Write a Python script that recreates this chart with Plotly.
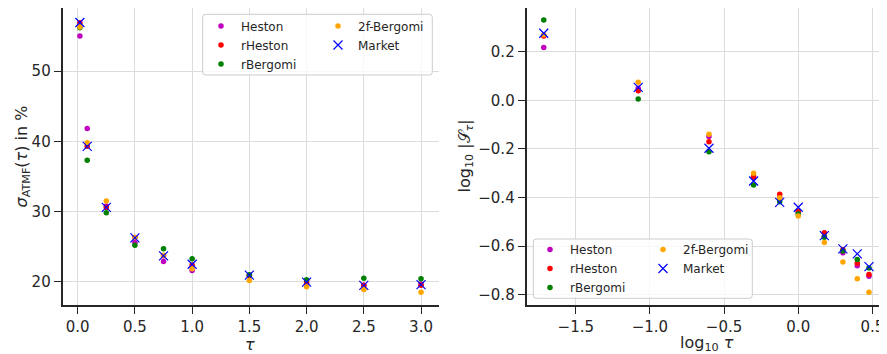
import plotly.graph_objects as go

# ---------------- data ----------------
models = ["Heston", "rHeston", "rBergomi", "2f-Bergomi", "Market"]
colors = {"Heston": "#bf00bf", "rHeston": "#ff0000", "rBergomi": "#008000",
          "2f-Bergomi": "#ffa500", "Market": "#0000ff"}

tau = [0.0192, 0.0833, 0.25, 0.5, 0.75, 1.0, 1.5, 2.0, 2.5, 3.0]
log_tau = [-1.716, -1.079, -0.602, -0.301, -0.125, 0.0, 0.176, 0.301, 0.398, 0.477]

atm_heston = [55.0, 41.85, 30.8, 25.6, 22.9, 21.6, 20.9, 19.8, 19.5, 19.7]
atm_rheston = [56.9, 39.3, 30.6, 26.3, 23.7, 22.4, 20.95, 20.0, 19.5, 19.5]
atm_rbergomi = [56.2, 37.3, 29.85, 25.2, 24.7, 23.27, 21.0, 20.3, 20.5, 20.45]
atm_2fbergomi = [56.3, 39.8, 31.5, 26.3, 23.8, 21.85, 20.2, 19.3, 18.9, 18.5]
atm_market = [56.93, 39.3, 30.6, 26.26, 23.7, 22.5, 20.95, 19.96, 19.5, 19.6]

skew_heston = [0.218, 0.05, -0.149, -0.32, -0.40, -0.46, -0.56, -0.628, -0.681, -0.724]
skew_rheston = [0.266, 0.040, -0.170, -0.314, -0.387, -0.456, -0.545, -0.615, -0.671, -0.717]
skew_rbergomi = [0.332, 0.006, -0.211, -0.348, -0.417, -0.468, -0.564, -0.62, -0.655, -0.69]
skew_2fbergomi = [0.271, 0.075, -0.139, -0.300, -0.401, -0.476, -0.585, -0.666, -0.735, -0.790]
skew_market = [0.277, 0.054, -0.197, -0.332, -0.420, -0.440, -0.557, -0.612, -0.632, -0.685]

left_x_ticks = [0.0, 0.5, 1.0, 1.5, 2.0, 2.5, 3.0]
left_y_ticks = [20, 30, 40, 50]
right_x_ticks = [-1.5, -1.0, -0.5, 0.0, 0.5]
right_y_ticks = [-0.8, -0.6, -0.4, -0.2, 0.0, 0.2]

atm = dict(zip(models, [atm_heston, atm_rheston, atm_rbergomi, atm_2fbergomi, atm_market]))
skew = dict(zip(models, [skew_heston, skew_rheston, skew_rbergomi, skew_2fbergomi, skew_market]))

# ---------------- layout helpers ----------------
# the page body has an 8px margin, so the figure starts at (8, 8) of the window
OFF = 8
W, H = 887 - OFF, 354 - OFF
PLOT_TOP, PLOT_BOTTOM = 8, 305          # window pixels
MT = PLOT_TOP - OFF
MB = H - (PLOT_BOTTOM - OFF)
PH = H - MT - MB
FONT = "DejaVu Sans"
DARK = "#262626"
GRID = "#dcdcdc"


def px_x(p):
    return (p - OFF) / W


def px_y(p):
    return (PLOT_BOTTOM - p) / PH


def marker_for(m):
    if m == "Market":
        return dict(symbol="x-thin", size=9, color=colors[m],
                    line=dict(width=1.2, color=colors[m]))
    return dict(symbol="circle", size=5.5, color=colors[m], line=dict(width=0))


fig = go.Figure()
left_legend = {"Heston": "legend", "rHeston": "legend", "rBergomi": "legend",
               "2f-Bergomi": "legend2", "Market": "legend2"}
right_legend = {"Heston": "legend3", "rHeston": "legend3", "rBergomi": "legend3",
                "2f-Bergomi": "legend4", "Market": "legend4"}

for m in models:
    fig.add_trace(go.Scatter(x=tau, y=atm[m], mode="markers", name=m,
                             marker=marker_for(m), xaxis="x", yaxis="y",
                             legend=left_legend[m]))
for m in models:
    fig.add_trace(go.Scatter(x=log_tau, y=skew[m], mode="markers", name=m,
                             marker=marker_for(m), xaxis="x2", yaxis="y2",
                             legend=right_legend[m]))

axis_common = dict(showline=True, linecolor=DARK, linewidth=2, mirror=False,
                   ticks="outside", ticklen=7, tickwidth=1.4, tickcolor=DARK,
                   showgrid=True, gridcolor=GRID, gridwidth=1, zeroline=False,
                   tickfont=dict(family=FONT, size=15, color=DARK),
                   tickformat=".1f")

fig.update_layout(
    width=W, height=H,
    margin=dict(l=0, r=0, t=MT, b=MB),
    paper_bgcolor="white", plot_bgcolor="white",
    font=dict(family=FONT, color=DARK),
    xaxis=dict(domain=[px_x(62.7), px_x(439)], range=[-0.131, 3.157],
               tickvals=left_x_ticks, anchor="y", **axis_common),
    yaxis=dict(domain=[0, 1], range=[16.7, 59.0], tickvals=left_y_ticks,
               anchor="x", **{**axis_common, "tickformat": "d"}),
    xaxis2=dict(domain=[px_x(526.7), px_x(885)], range=[-1.831, 0.585],
                tickvals=right_x_ticks, anchor="y2", **axis_common),
    yaxis2=dict(domain=[0, 1], range=[-0.843, 0.381], tickvals=right_y_ticks,
                anchor="x2", **axis_common),
)

leg_common = dict(bgcolor="rgba(0,0,0,0)", borderwidth=0, xanchor="left",
                  yanchor="top", font=dict(family=FONT, size=12, color=DARK),
                  tracegroupgap=0, itemsizing="trace")
fig.update_layout(
    legend=dict(x=px_x(201), y=px_y(11.5), **leg_common),
    legend2=dict(x=px_x(318), y=px_y(11.5), **leg_common),
    legend3=dict(x=px_x(530), y=px_y(235), **leg_common),
    legend4=dict(x=px_x(643), y=px_y(235), **leg_common),
)


def rounded_box(x0, y0, x1, y1, r=3):
    X0, X1 = px_x(x0), px_x(x1)
    Y0, Y1 = px_y(y0), px_y(y1)  # Y0 top, Y1 bottom
    rx, ry = r / W, r / PH
    return (f"M {X0+rx},{Y0} L {X1-rx},{Y0} Q {X1},{Y0} {X1},{Y0-ry} "
            f"L {X1},{Y1+ry} Q {X1},{Y1} {X1-rx},{Y1} "
            f"L {X0+rx},{Y1} Q {X0},{Y1} {X0},{Y1+ry} "
            f"L {X0},{Y0-ry} Q {X0},{Y0} {X0+rx},{Y0} Z")


for box in [(202.7, 14.3, 432.3, 75), (533.3, 239, 752.3, 298.3)]:
    fig.add_shape(type="path", path=rounded_box(*box), xref="paper", yref="paper",
                  fillcolor="rgba(255,255,255,0.8)", line=dict(color="#cccccc", width=1),
                  layer="above")

title_font = dict(family=FONT, size=16, color=DARK)
fig.add_annotation(text="<i>τ</i>", x=px_x(250), y=px_y(344), xref="paper", yref="paper",
                   showarrow=False, font=title_font, xanchor="center", yanchor="middle")
fig.add_annotation(text="log<sub>10</sub> <i>τ</i>", x=px_x(706.7), y=px_y(343.5),
                   xref="paper", yref="paper", showarrow=False, font=title_font,
                   xanchor="center", yanchor="middle")
fig.add_annotation(text="<i>σ</i><sub>ATMF</sub>(<i>τ</i>) in %", x=px_x(22), y=px_y(156.5),
                   xref="paper", yref="paper", showarrow=False, font=title_font,
                   textangle=-90, xanchor="center", yanchor="middle")
fig.add_annotation(text="log<sub>10</sub> |𝒮<sub><i>τ</i></sub>|", x=px_x(465), y=px_y(156.5),
                   xref="paper", yref="paper", showarrow=False, font=title_font,
                   textangle=-90, xanchor="center", yanchor="middle")

fig.write_html("out.html")
